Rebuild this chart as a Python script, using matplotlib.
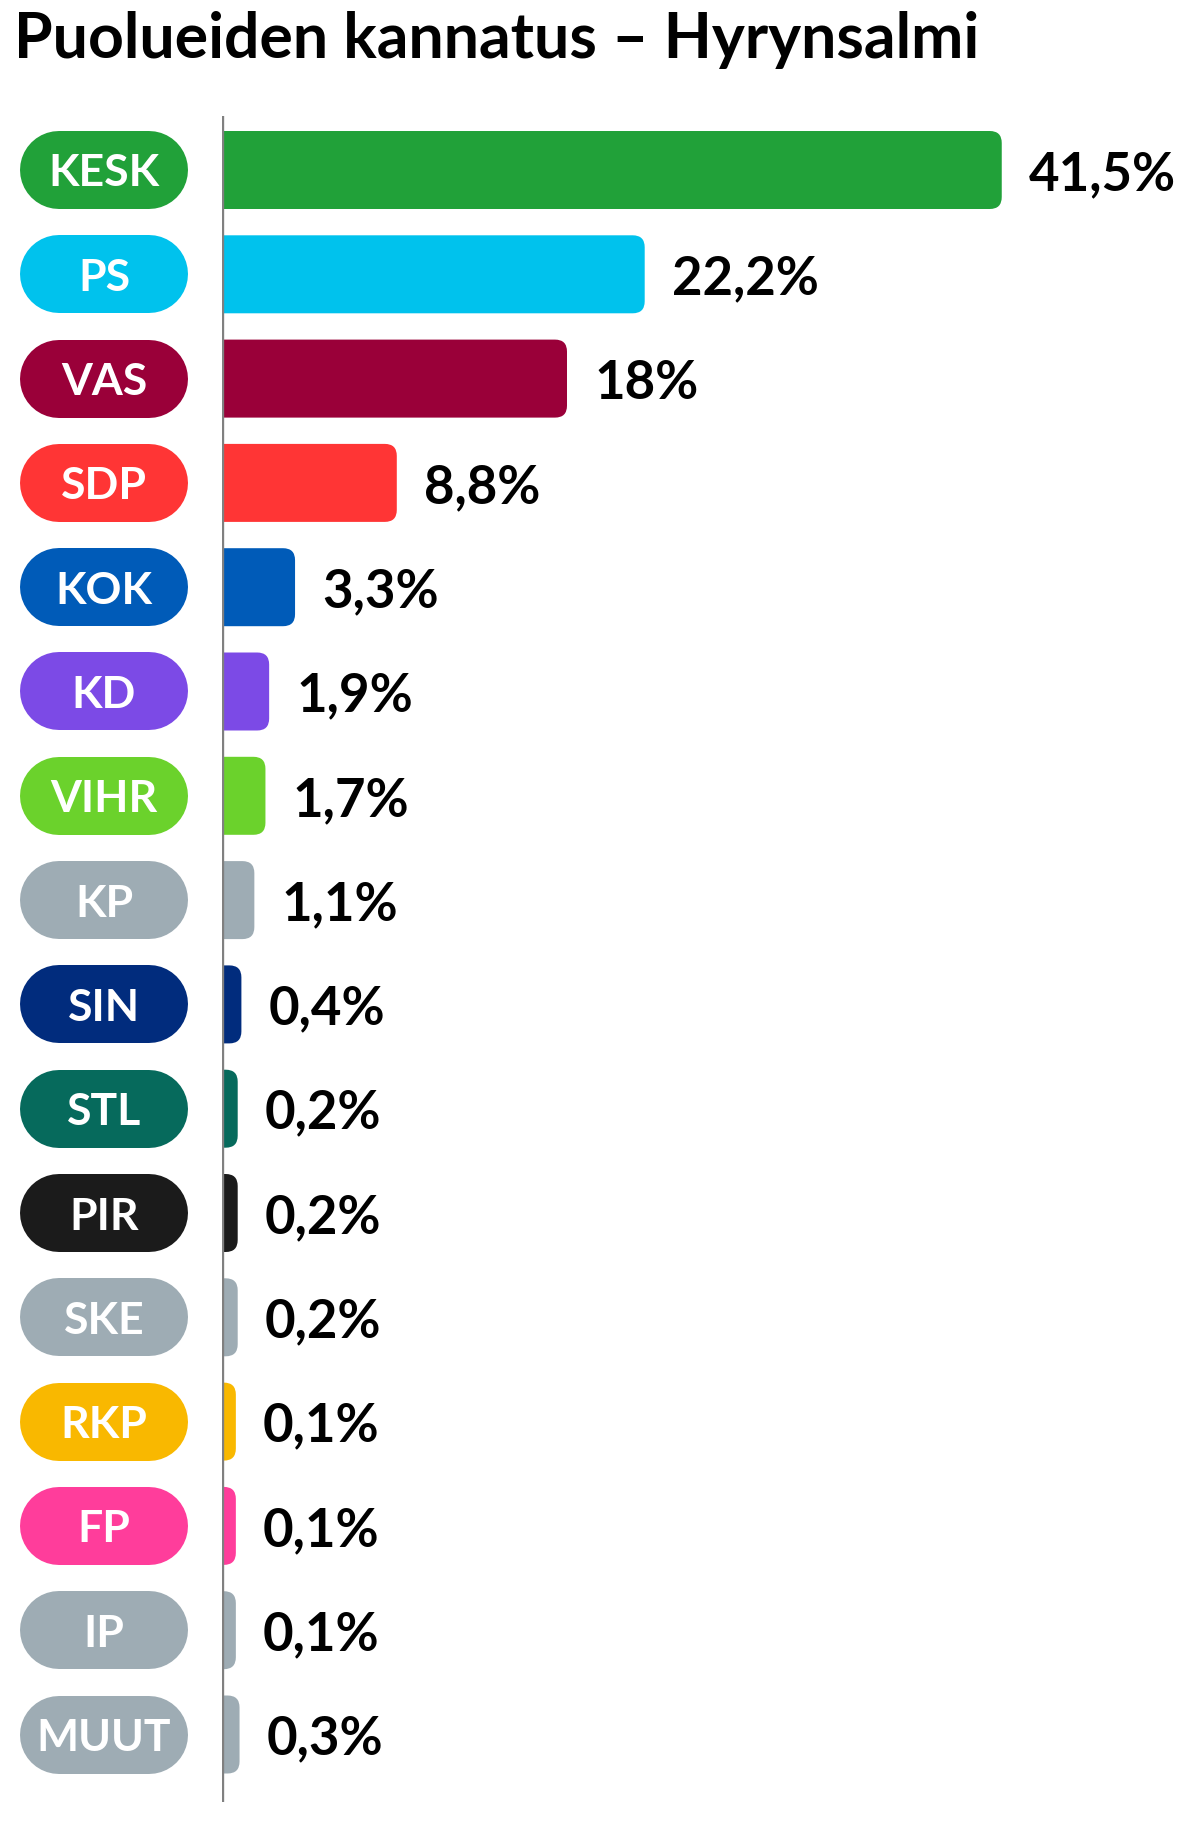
import matplotlib
matplotlib.use('Agg')
import matplotlib.pyplot as plt
from matplotlib.patches import FancyBboxPatch

plt.rcParams['font.family'] = ['Lato', 'DejaVu Sans']

# ---------------------------------------------------------------- data

title = "Puolueiden kannatus – Hyrynsalmi"
parties = ['KESK', 'PS', 'VAS', 'SDP', 'KOK', 'KD', 'VIHR', 'KP',
           'SIN', 'STL', 'PIR', 'SKE', 'RKP', 'FP', 'IP', 'MUUT']
values = [41.5, 22.2, 18, 8.8, 3.3, 1.9, 1.7, 1.1,
          0.4, 0.2, 0.2, 0.2, 0.1, 0.1, 0.1, 0.3]
labels = ['41,5%', '22,2%', '18%', '8,8%', '3,3%', '1,9%', '1,7%', '1,1%',
          '0,4%', '0,2%', '0,2%', '0,2%', '0,1%', '0,1%', '0,1%', '0,3%']
colors = ['#21a139', '#00c2ed', '#9a0039', '#ff3535', '#005bb8', '#7c4ae6',
          '#6bd22c', '#9eacb4', '#012c7d', '#066a5c', '#1b1b1b', '#9eacb4',
          '#f9b800', '#ff3d9b', '#9eacb4', '#9eacb4']

# ---------------------------------------------------------------- layout (pixels)

W, H = 1199, 1826
AX_X0 = 222          # value axis position
PX_PER_PCT = 18.5
ROW0, ROW_STEP = 170, 104.3
AX_TOP, AX_BOT = 116, 1802
BAR_PX = 78
BAR_H = BAR_PX / ROW_STEP   # in row units
CORNER = 12          # px
PILL_X0, PILL_X1 = 20, 188

fig = plt.figure(figsize=(W / 100, H / 100), dpi=100)

y_top = (AX_TOP - ROW0) / ROW_STEP
y_bot = (AX_BOT - ROW0) / ROW_STEP
ax_b = 1 - AX_BOT / H
ax_h = (AX_BOT - AX_TOP) / H

ax = fig.add_axes([AX_X0 / W, ax_b, 1 - AX_X0 / W, ax_h])
ax.set_xlim(0, (W - AX_X0) / PX_PER_PCT)
ax.set_ylim(y_bot, y_top)
ax.axis('off')

aspect = PX_PER_PCT / ROW_STEP
r = CORNER / PX_PER_PCT
for i, (v, c, lab) in enumerate(zip(values, colors, labels)):
    end = v + r
    ax.add_patch(FancyBboxPatch((-2 * r, i - BAR_H / 2), end + 2 * r, BAR_H,
                                boxstyle=f"round,pad=0,rounding_size={r}",
                                mutation_aspect=aspect, fc=c, ec='none'))
    ax.text(end + 27 / PX_PER_PCT, i, lab, va='center_baseline', ha='left',
            fontsize=38, fontweight='bold', color='black')

ax.axvline(0, color='#808080', lw=2.4, zorder=5)

# party pills: thick line with round caps
axp = fig.add_axes([PILL_X0 / W, ax_b, (PILL_X1 - PILL_X0) / W, ax_h])
axp.set_xlim(0, 1)
axp.set_ylim(y_bot, y_top)
axp.axis('off')
cap = (BAR_PX / 2) / (PILL_X1 - PILL_X0)
for i, (p, c) in enumerate(zip(parties, colors)):
    axp.plot([cap, 1 - cap], [i, i], color=c, lw=BAR_PX * 0.72,
             solid_capstyle='round', clip_on=False)
    axp.text(0.5, i, p, ha='center', va='center_baseline', fontsize=32,
             fontweight='bold', color='white')

fig.text(14 / W, 1 - 58 / H, title, ha='left', va='baseline',
         fontsize=45, fontweight='bold', color='black')

fig.savefig('out.png', dpi=100)
